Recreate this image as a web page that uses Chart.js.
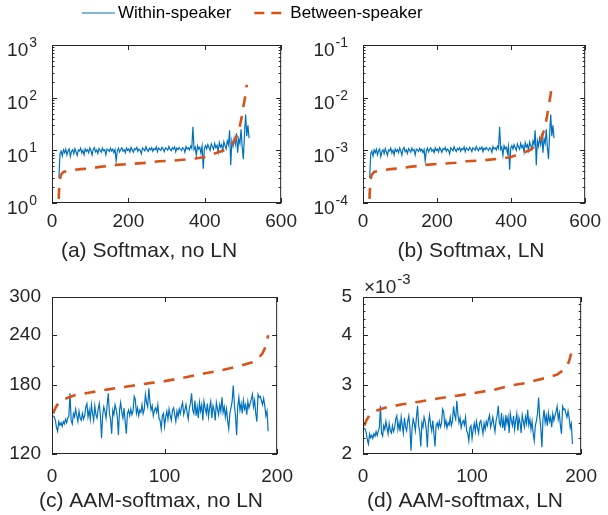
<!DOCTYPE html>
<html><head><meta charset="utf-8">
<script src="https://cdn.jsdelivr.net/npm/chart.js@4.4.1/dist/chart.umd.min.js"></script>
<style>
html,body{margin:0;padding:0;background:#fff}
body{width:608px;height:515px;position:relative;overflow:hidden}
canvas{position:absolute;display:block}
</style></head><body>
<canvas id="leg" width="508" height="70" style="left:-2px;top:-18px"></canvas>
<canvas id="pa" width="304" height="238" style="left:0;top:30px"></canvas>
<canvas id="pb" width="304" height="238" style="left:304px;top:30px"></canvas>
<canvas id="pc" width="304" height="247" style="left:0;top:268px"></canvas>
<canvas id="pd" width="304" height="247" style="left:304px;top:268px"></canvas>
<script>
const FONT = "'Liberation Sans', Arial, Helvetica, sans-serif";
const BLUE = '#0072BD', ORANGE = '#D95319', AXIS = '#262626';

const seriesNames = ['Within-speaker', 'Between-speaker'];
const captions = ['(a) Softmax, no LN', '(b) Softmax, LN', '(c) AAM-softmax, no LN', '(d) AAM-softmax, LN'];

// ---- (a) Softmax, no LN : speakers sorted, index starts at 18, every 3rd speaker read
const withinAStart = 18, withinAStep = 3;
const withinA = [3.0, 8.7, 9.7, 7.8, 10.2, 9.0, 10.5, 8.2, 9.8, 10.6,
 7.6, 9.5, 10.3, 8.6, 10.8, 9.4, 8.0, 10.2, 9.7, 11.0,
 8.9, 10.0, 8.2, 10.6, 9.5, 10.3, 9.0, 11.1, 9.8, 8.1,
 10.5, 11.3, 9.4, 10.2, 8.7, 10.8, 10.0, 9.2, 11.0, 9.8,
 10.3, 8.2, 10.6, 10.2, 9.5, 11.0, 9.7, 10.5, 9.0, 10.3,
 6.3, 9.8, 11.0, 9.3, 10.5, 11.2, 9.6, 10.3, 9.0, 11.1,
 10.0, 10.6, 9.3, 11.3, 10.2, 9.2, 10.8, 10.3, 11.4, 9.6,
 10.6, 10.0, 8.6, 11.1, 10.5, 9.8, 11.7, 10.3, 9.5, 10.9,
 10.2, 11.2, 9.6, 10.8, 10.3, 11.6, 9.4, 11.1, 10.5, 10.0,
 11.4, 10.6, 9.5, 11.2, 10.8, 10.1, 11.8, 10.5, 9.8, 11.2,
 10.5, 11.6, 9.4, 11.0, 10.3, 11.4, 10.6, 9.9, 11.2, 10.8,
 9.2, 11.8, 10.6, 11.2, 10.1, 12.0, 10.9, 28.0, 10.4, 11.5,
 8.0, 12.2, 10.6, 11.5, 8.8, 12.0, 4.5, 11.0, 12.3, 10.6,
 12.8, 11.3, 10.0, 13.2, 11.7, 10.5, 13.6, 11.3, 12.4, 9.3,
 14.0, 11.6, 12.8, 10.0, 14.5, 12.3, 10.6, 15.0, 12.8, 24.0,
 5.2, 15.2, 12.0, 17.0, 13.0, 21.0, 9.0, 16.5, 13.5, 25.0,
 11.5, 6.8, 20.0, 48.0, 18.5, 30.0, 17.0];
const betweenAx = [16, 18, 20, 23, 30, 50, 75, 100, 125, 150, 170, 200, 250, 280, 320, 375, 400, 430, 450, 470, 480, 490, 496, 501, 506, 510];
const betweenA = [0.5, 1.5, 2.6, 3.4, 3.9, 4.2, 4.4, 4.55, 4.85, 5.05, 5.3, 5.5, 5.8, 6.2, 6.4, 7.0, 7.5, 8.9, 10, 12.6, 16, 25, 40, 67, 105, 175];

// ---- (b) Softmax, LN
const withinB = [3.0e-4, 8.7e-4, 9.7e-4, 7.8e-4, 10.2e-4, 9.0e-4, 10.5e-4, 8.2e-4, 9.8e-4, 10.6e-4,
 7.6e-4, 9.5e-4, 10.3e-4, 8.6e-4, 10.8e-4, 9.4e-4, 8.0e-4, 10.2e-4, 9.7e-4, 11.0e-4,
 8.9e-4, 10.0e-4, 8.2e-4, 10.6e-4, 9.5e-4, 10.3e-4, 9.0e-4, 11.1e-4, 9.8e-4, 8.1e-4,
 10.5e-4, 11.3e-4, 9.4e-4, 10.2e-4, 8.7e-4, 10.8e-4, 10.0e-4, 9.2e-4, 11.0e-4, 9.8e-4,
 10.3e-4, 8.2e-4, 10.6e-4, 10.2e-4, 9.5e-4, 11.0e-4, 9.7e-4, 10.5e-4, 9.0e-4, 10.3e-4,
 6.3e-4, 9.8e-4, 11.0e-4, 9.3e-4, 10.5e-4, 11.2e-4, 9.6e-4, 10.3e-4, 9.0e-4, 11.1e-4,
 10.0e-4, 10.6e-4, 9.3e-4, 11.3e-4, 10.2e-4, 9.2e-4, 10.8e-4, 10.3e-4, 11.4e-4, 9.6e-4,
 10.6e-4, 10.0e-4, 8.6e-4, 11.1e-4, 10.5e-4, 9.8e-4, 11.7e-4, 10.3e-4, 9.5e-4, 10.9e-4,
 10.2e-4, 11.2e-4, 9.6e-4, 10.8e-4, 10.3e-4, 11.6e-4, 9.4e-4, 11.1e-4, 10.5e-4, 10.0e-4,
 11.4e-4, 10.6e-4, 9.5e-4, 11.2e-4, 10.8e-4, 10.1e-4, 11.8e-4, 10.5e-4, 9.8e-4, 11.2e-4,
 10.5e-4, 11.6e-4, 9.4e-4, 11.0e-4, 10.3e-4, 11.4e-4, 10.6e-4, 9.9e-4, 11.2e-4, 10.8e-4,
 9.2e-4, 11.8e-4, 10.6e-4, 11.2e-4, 10.1e-4, 12.0e-4, 10.9e-4, 28.0e-4, 10.4e-4, 11.5e-4,
 8.0e-4, 12.2e-4, 10.6e-4, 11.5e-4, 8.8e-4, 12.0e-4, 4.3e-4, 11.0e-4, 12.3e-4, 10.6e-4,
 12.8e-4, 11.3e-4, 10.0e-4, 13.2e-4, 11.7e-4, 10.5e-4, 13.6e-4, 11.3e-4, 12.4e-4, 9.3e-4,
 14.0e-4, 11.6e-4, 12.8e-4, 10.0e-4, 14.5e-4, 12.3e-4, 10.6e-4, 15.0e-4, 12.8e-4, 24.0e-4,
 5.2e-4, 15.2e-4, 12.0e-4, 17.0e-4, 13.0e-4, 21.0e-4, 9.0e-4, 16.5e-4, 13.5e-4, 25.0e-4,
 11.5e-4, 6.8e-4, 20.0e-4, 48.0e-4, 18.5e-4, 30.0e-4, 17.0e-4];
const betweenBx = [16, 18, 20, 23, 30, 50, 75, 100, 125, 150, 170, 200, 250, 280, 320, 375, 400, 430, 450, 470, 480, 490, 496, 501, 506, 510];
const betweenB = [0.5e-4, 1.5e-4, 2.6e-4, 3.4e-4, 3.9e-4, 4.2e-4, 4.4e-4, 4.55e-4, 4.85e-4, 5.05e-4, 5.3e-4, 5.5e-4, 5.8e-4, 6.2e-4, 6.4e-4, 7.0e-4, 7.5e-4, 8.9e-4, 10e-4, 12.6e-4, 16e-4, 25e-4, 40e-4, 67e-4, 105e-4, 175e-4];

// ---- (c) AAM-softmax, no LN : speakers 1..192
const withinC = [150, 149, 146, 140, 137, 145, 142, 144, 141, 145,
 143, 147, 144, 148, 150, 171, 146, 143, 152, 149,
 156, 150, 145, 154, 148, 146, 152, 147, 150, 158,
 161, 149, 155, 147, 160, 152, 146, 159, 151, 148,
 156, 161, 150, 131.5, 150, 158, 154, 148, 160, 171,
 152, 147, 135, 155, 151, 160, 156, 149, 134, 155,
 162, 153, 148, 157, 145, 135, 152, 155, 150, 156,
 151, 154, 168, 165, 152, 157, 150, 155, 153, 160,
 152, 156, 170, 162, 158, 176, 163, 155, 159, 150,
 155, 157, 153, 160, 148, 146, 139, 150, 152, 141,
 149, 154, 147, 156, 150, 146, 155, 157, 151, 145,
 154, 149, 156, 152, 158, 162, 151, 155, 160, 153,
 147, 157, 161, 171, 155, 152, 164, 150, 158, 148,
 162, 154, 160, 146, 163, 157, 152, 161, 149, 157,
 163, 148, 159, 155, 146, 162, 156, 151, 160, 154,
 167, 153, 158, 149, 156, 146, 139, 152, 157, 163,
 179, 160, 150, 134, 158, 167, 155, 161, 152, 164,
 156, 160, 151, 163, 157, 161, 165, 170, 158, 164,
 152, 145, 170, 167, 168, 164, 160, 166, 159, 150,
 154, 137];
const betweenCx = [1, 3, 6, 10, 20, 35, 50, 70, 90, 100, 120, 135, 150, 168, 178, 184, 187, 189, 191, 192];
const betweenC = [152, 157, 162, 165, 169, 172, 175, 178.5, 182, 183.6, 188, 192, 195.5, 201, 205, 211, 216, 222, 233, 240];

// ---- (d) AAM-softmax, LN : values in units of 1e-3
const withinD = [2.33, 2.31, 2.26, 2.17, 2.12, 2.25, 2.20, 2.23, 2.19, 2.25,
 2.22, 2.28, 2.23, 2.29, 2.33, 2.65, 2.26, 2.22, 2.36, 2.31,
 2.42, 2.33, 2.25, 2.39, 2.29, 2.26, 2.36, 2.28, 2.33, 2.45,
 2.50, 2.31, 2.40, 2.28, 2.48, 2.36, 2.26, 2.47, 2.34, 2.29,
 2.42, 2.50, 2.33, 2.04, 2.33, 2.45, 2.39, 2.29, 2.48, 2.65,
 2.36, 2.28, 2.09, 2.40, 2.34, 2.48, 2.42, 2.31, 2.08, 2.40,
 2.51, 2.37, 2.29, 2.43, 2.25, 2.09, 2.36, 2.40, 2.33, 2.42,
 2.34, 2.39, 2.60, 2.56, 2.36, 2.43, 2.33, 2.40, 2.37, 2.48,
 2.36, 2.42, 2.64, 2.51, 2.45, 2.73, 2.53, 2.40, 2.47, 2.33,
 2.40, 2.43, 2.37, 2.48, 2.29, 2.26, 2.16, 2.33, 2.36, 2.19,
 2.31, 2.39, 2.28, 2.42, 2.33, 2.26, 2.40, 2.43, 2.34, 2.25,
 2.39, 2.31, 2.42, 2.36, 2.45, 2.51, 2.34, 2.40, 2.48, 2.37,
 2.28, 2.43, 2.50, 2.65, 2.40, 2.36, 2.54, 2.33, 2.45, 2.29,
 2.51, 2.39, 2.48, 2.26, 2.53, 2.43, 2.36, 2.50, 2.31, 2.43,
 2.53, 2.29, 2.47, 2.40, 2.26, 2.51, 2.42, 2.34, 2.48, 2.39,
 2.59, 2.37, 2.45, 2.31, 2.42, 2.26, 2.16, 2.36, 2.43, 2.53,
 2.78, 2.48, 2.33, 2.08, 2.45, 2.59, 2.40, 2.50, 2.36, 2.54,
 2.42, 2.48, 2.34, 2.53, 2.43, 2.50, 2.56, 2.64, 2.45, 2.54,
 2.36, 2.25, 2.64, 2.59, 2.60, 2.54, 2.48, 2.57, 2.47, 2.33,
 2.39, 2.12];
const betweenDx = [1, 3, 6, 10, 20, 35, 50, 70, 90, 100, 120, 135, 150, 168, 178, 184, 187, 189, 191, 192];
const betweenD = [2.36, 2.43, 2.51, 2.56, 2.62, 2.67, 2.71, 2.77, 2.82, 2.85, 2.91, 2.98, 3.03, 3.12, 3.18, 3.27, 3.35, 3.44, 3.61, 3.72];

// ---- tick labels
const xTicksTop = [0, 200, 400, 600];
const xTicksBottom = [0, 100, 200];
const yTicksA = [1, 10, 100, 1000];
const yExpA = ['0', '1', '2', '3'];
const yTicksB = [1e-4, 1e-3, 1e-2, 1e-1];
const yExpB = ['-4', '-3', '-2', '-1'];
const yTicksC = [120, 180, 240, 300];
const yMinorC = [200];
const yTicksD = [2, 3, 4, 5];
const yMinorD = [2.2, 2.4, 2.6, 2.8, 3.2, 3.4, 3.6, 3.8, 4.2, 4.4, 4.6, 4.8];

Chart.defaults.font.family = FONT;
Chart.defaults.color = AXIS;

function decadeMinors(majors) {
  const out = [];
  for (let i = 0; i < majors.length - 1; i++) for (let m = 2; m <= 9; m++) out.push(majors[i] * m);
  return out;
}

const framePlugin = {
  id: 'frame',
  afterDatasetsDraw(chart, args, o) {
    const ctx = chart.ctx, a = chart.chartArea;
    const xs = chart.scales.x, ys = chart.scales.y;
    ctx.save();
    ctx.strokeStyle = AXIS; ctx.lineWidth = 1; ctx.setLineDash([]);
    ctx.strokeRect(a.left + 0.5, a.top + 0.5, a.right - a.left - 1, a.bottom - a.top - 1);
    ctx.beginPath();
    o.xMajor.forEach(v => {
      const x = Math.round(xs.getPixelForValue(v)) + 0.5;
      ctx.moveTo(x, a.bottom); ctx.lineTo(x, a.bottom - 5);
      ctx.moveTo(x, a.top); ctx.lineTo(x, a.top + 5);
    });
    const yTick = (v, len) => {
      const y = Math.round(ys.getPixelForValue(v)) + 0.5;
      ctx.moveTo(a.left, y); ctx.lineTo(a.left + len, y);
      ctx.moveTo(a.right, y); ctx.lineTo(a.right - len, y);
    };
    o.yMajor.forEach(v => yTick(v, 5));
    o.yMinor.forEach(v => yTick(v, 2.5));
    ctx.stroke();
    ctx.fillStyle = AXIS;
    if (o.exps) {
      o.yMajor.forEach((v, i) => {
        const y = ys.getPixelForValue(v);
        const xr = a.left - 15;
        ctx.textAlign = 'right'; ctx.textBaseline = 'middle';
        ctx.font = '14px ' + FONT;
        ctx.fillText(o.exps[i], xr, y - 2);
        const ew = ctx.measureText(o.exps[i]).width;
        ctx.font = '19px ' + FONT;
        ctx.fillText('10', xr - ew - 1, y + 6);
      });
    }
    if (o.multiplier) {
      ctx.textAlign = 'left'; ctx.textBaseline = 'alphabetic';
      ctx.font = '19px ' + FONT;
      const t = '\u00d710';
      ctx.fillText(t, a.left + 1, a.top - 4);
      const w = ctx.measureText(t).width;
      ctx.font = '15px ' + FONT;
      ctx.fillText(o.multiplier, a.left + 1 + w + 1, a.top - 13);
    }
    if (o.caption) {
      ctx.textAlign = 'center'; ctx.textBaseline = 'middle';
      ctx.font = '21px ' + FONT;
      ctx.fillText(o.caption, o.capX, o.capY);
    }
    ctx.restore();
  }
};

function makePanel(id, g) {
  const pts = (xs, ys) => ys.map((y, i) => ({ x: xs[i], y }));
  return new Chart(document.getElementById(id), {
    type: 'line',
    data: { datasets: [
      { label: seriesNames[0], data: pts(g.wx, g.wy), borderColor: BLUE, borderWidth: 1.2, pointRadius: 0, tension: 0, order: 2 },
      { label: seriesNames[1], data: pts(g.bx, g.by), borderColor: ORANGE, borderWidth: 2.6, borderDash: [11, 9], pointRadius: 0, tension: 0, order: 1 }
    ]},
    options: {
      responsive: false, animation: false, events: [],
      layout: { autoPadding: false, padding: { top: g.T - g.top, right: g.left + g.w - g.R, left: 0, bottom: 0 } },
      plugins: { legend: { display: false }, tooltip: { enabled: false },
        frame: { xMajor: g.xt, yMajor: g.yt, yMinor: g.ym, exps: g.exps, multiplier: g.mult,
          caption: g.caption, capX: g.capX - g.left, capY: g.capY - g.top } },
      scales: {
        x: { type: 'linear', min: g.xt[0], max: g.xt[g.xt.length - 1],
          grid: { display: false, drawTicks: false }, border: { display: false },
          ticks: { font: { size: 19 }, color: AXIS, padding: g.xPad, maxRotation: 0, autoSkip: false, callback: v => String(v) },
          afterBuildTicks: s => { s.ticks = g.xt.map(v => ({ value: v })); },
          afterFit: s => { s.height = g.top + g.h - g.B; } },
        y: { type: 'logarithmic', min: g.yt[0], max: g.yt[g.yt.length - 1],
          grid: { display: false, drawTicks: false }, border: { display: false },
          ticks: { display: !g.exps, font: { size: 19 }, color: AXIS, padding: 11, autoSkip: false, callback: v => String(v) },
          afterBuildTicks: s => { s.ticks = g.yt.map(v => ({ value: v })); },
          afterFit: s => { s.width = g.L - g.left; } }
      }
    },
    plugins: [framePlugin]
  });
}

const idxA = withinA.map((_, i) => withinAStart + withinAStep * i);
const idxB = withinB.map((_, i) => withinAStart + withinAStep * i);
const idxC = withinC.map((_, i) => i + 1);
const idxD = withinD.map((_, i) => i + 1);

makePanel('pa', { left: 0, top: 30, w: 304, h: 238, L: 52, R: 283, T: 45, B: 203, xPad: 7, capX: 149, capY: 251,
  wx: idxA, wy: withinA, bx: betweenAx, by: betweenA, xt: xTicksTop, yt: yTicksA, ym: decadeMinors(yTicksA), exps: yExpA, caption: captions[0] });
makePanel('pb', { left: 304, top: 30, w: 304, h: 238, L: 363, R: 593, T: 45, B: 203, xPad: 7, capX: 471, capY: 251,
  wx: idxB, wy: withinB, bx: betweenBx, by: betweenB, xt: xTicksTop, yt: yTicksB, ym: decadeMinors(yTicksB), exps: yExpB, caption: captions[1] });
makePanel('pc', { left: 0, top: 268, w: 304, h: 247, L: 52, R: 283, T: 297, B: 454, xPad: 11, capX: 151, capY: 501,
  wx: idxC, wy: withinC, bx: betweenCx, by: betweenC, xt: xTicksBottom, yt: yTicksC, ym: yMinorC, caption: captions[2] });
makePanel('pd', { left: 304, top: 268, w: 304, h: 247, L: 363, R: 593, T: 297, B: 454, xPad: 11, capX: 465, capY: 501,
  wx: idxD, wy: withinD, bx: betweenDx, by: betweenD, xt: xTicksBottom, yt: yTicksD, ym: yMinorD, mult: '-3', caption: captions[3] });

// legend swatches (line samples) used as the legend's point style images
function lineSwatch(color, width, dash) {
  const c = document.createElement('canvas');
  c.width = 39; c.height = 6;
  const x = c.getContext('2d');
  x.strokeStyle = color; x.lineWidth = width; x.setLineDash(dash);
  x.beginPath(); x.moveTo(6, 3); x.lineTo(39, 3); x.stroke();
  return c;
}
const swatches = [lineSwatch(BLUE, 1.2, []), lineSwatch(ORANGE, 2.6, [10, 7])];

new Chart(document.getElementById('leg'), {
  type: 'line',
  data: { datasets: [
    { label: seriesNames[0], data: [], borderColor: BLUE, backgroundColor: BLUE, borderWidth: 1.2 },
    { label: seriesNames[1], data: [], borderColor: ORANGE, backgroundColor: ORANGE, borderWidth: 2.6, borderDash: [11, 9] }
  ]},
  options: {
    responsive: false, animation: false, events: [],
    layout: { padding: 0 },
    scales: { x: { display: false }, y: { display: false } },
    plugins: { tooltip: { enabled: false },
      legend: { display: true, position: 'top', align: 'center', maxHeight: 60,
        labels: { usePointStyle: true, pointStyleWidth: 28, boxHeight: 17, padding: 22.5,
          color: '#000', font: { size: 17 },
          generateLabels: chart => chart.data.datasets.map((ds, i) => ({
            text: ds.label, pointStyle: swatches[i], fillStyle: ds.borderColor, strokeStyle: ds.borderColor,
            lineWidth: 0, hidden: false, datasetIndex: i, fontColor: '#000' })) } } }
  }
});
</script>
</body></html>
